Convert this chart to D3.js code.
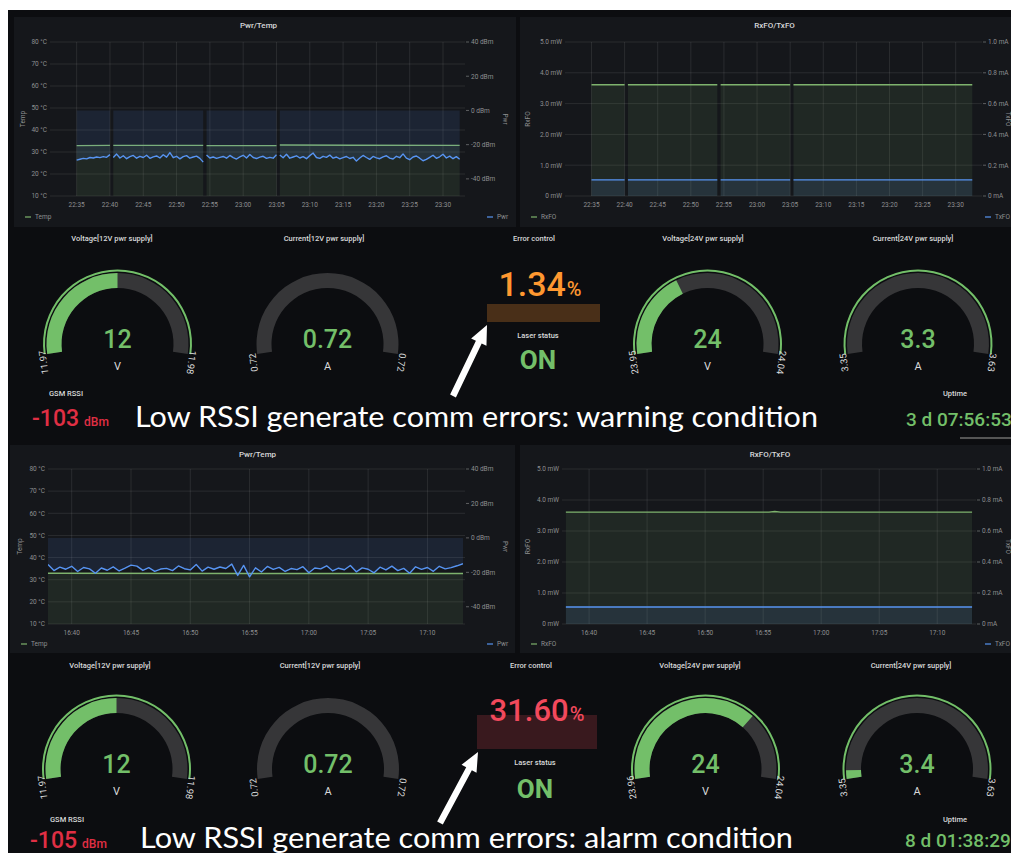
<!DOCTYPE html>
<html lang="en">
<head>
  <meta charset="utf-8" />
  <title>Grafana fiber link dashboards</title>
  <script src="https://cdn.jsdelivr.net/npm/d3@7"></script>
  <style>
    html, body { margin: 0; padding: 0; background: #fff; }
    svg { display: block; font-family: Roboto, "Noto Sans", sans-serif; }
  </style>
</head>
<body>
  <div id="chart"></div>
  <script>
    // ---- data: top dashboard (warning) ----
    const topStart = "22:35";
    const topGaps = [5.25, 19.25, 30.25];           // minutes after start with no samples
    // Pwr [dBm], one sample every 30 s
    const pwrTop = [
      -29.0, -28.5, -28.0, -28.3, -27.5, -27.8, -27.2, -27.6, -27.0, -27.4, -25.8,
      -27.5, -25.5, -27.8, -26.5, -28.2, -27.0, -26.3, -27.9, -26.8, -27.5, -26.2, -28.0, -27.1, -26.6,
      -27.8, -25.9, -27.3, -24.6, -27.6, -26.8, -28.3, -27.0, -26.4, -27.9, -27.2, -26.7, -28.0, -30.2,
      -26.0, -27.8, -27.2, -28.0, -27.4, -26.9, -27.9, -26.3, -27.6, -28.4, -27.1, -26.2, -27.8, -25.8,
      -27.5, -28.1, -27.3, -26.8, -28.0, -27.4, -27.9, -25.9,
      -26.0, -27.6, -25.6, -27.9, -27.2, -26.5, -27.8, -27.0, -28.2, -26.4, -24.9, -27.5, -28.0, -26.8,
      -27.4, -26.1, -27.9, -27.2, -28.3, -27.6, -26.9, -28.1, -27.4, -29.6, -27.8, -26.3, -27.5, -28.6,
      -26.9, -27.7, -28.2, -27.1, -26.5, -27.9, -28.4, -26.8, -27.6, -25.4, -27.9, -28.8, -27.2, -26.6,
      -27.9, -29.4, -28.6, -27.4, -26.2, -28.0, -27.1, -25.6, -27.8, -26.7, -28.2, -27.0, -28.5
    ];
    // [minutes after start, value]
    const tempTop = [[0, 32.9], [5.0, 33.0], [5.5, 33.0], [19.0, 33.0], [19.5, 32.9], [30.0, 32.9], [30.5, 33.2], [42.0, 33.1], [57.5, 33.0]];
    const rxTop = [[0, 3.61], [5.0, 3.61], [5.5, 3.61], [19.0, 3.61], [19.5, 3.61], [30.0, 3.61], [30.5, 3.61], [57.5, 3.61]];
    const txTop = [[0, 0.105], [5.0, 0.105], [5.5, 0.105], [19.0, 0.105], [19.5, 0.105], [30.0, 0.105], [30.5, 0.105], [57.5, 0.105]];

    // ---- data: bottom dashboard (alarm) ----
    const bottomStart = "16:38";
    const bottomGaps = [];
    const pwrBottom = [
      -15.5, -19.0, -17.0, -18.2, -16.5, -19.5, -17.2, -18.0, -20.5, -17.5,
      -18.8, -16.8, -19.2, -17.6, -15.8, -16.4, -18.9, -17.3, -19.4, -18.1,
      -17.7, -19.0, -16.3, -17.9, -18.6, -15.5, -19.3, -17.0, -18.2, -16.9,
      -17.8, -15.2, -21.8, -16.0, -22.6, -17.4, -19.8, -16.6, -18.3, -17.1,
      -19.5, -17.8, -18.4, -16.7, -20.2, -17.5, -18.0, -16.2, -19.1, -17.6,
      -18.5, -16.0, -19.7, -17.4, -18.2, -20.3, -17.0, -18.6, -16.4, -19.0,
      -17.7, -20.5, -16.8, -18.3, -17.2, -19.4, -16.5, -18.0, -17.3, -16.2,
      -15.0
    ];
    const tempBottom = [[0, 32.9], [17.5, 32.8], [35, 32.8]];
    const rxBottom = [[0, 3.61], [17.5, 3.61], [18.0, 3.63], [18.5, 3.61], [35, 3.61]];
    const txBottom = [[0, 0.11], [35, 0.11]];

    // ---- axes ----
    const tempTicks = [10, 20, 30, 40, 50, 60, 70, 80];
    const dbmTicks = [-40, -20, 0, 20, 40];
    const mwTicks = [0, 1, 2, 3, 4, 5];
    const maTicks = [0, 0.2, 0.4, 0.6, 0.8, 1.0];

    // ---- gauges ----
    const gaugeTitles = ["Voltage[12V pwr supply]", "Current[12V pwr supply]", "Voltage[24V pwr supply]", "Current[24V pwr supply]"];
    const gaugeUnits = ["V", "A", "V", "A"];
    const gaugeFormats = [".0f", ".2f", ".0f", ".1f"];
    const topGaugeValues = [11.975, 0.72, 23.983, 3.3];
    const topGaugeMin = [11.97, 0.72, 23.95, 3.35];
    const topGaugeMax = [11.98, 0.72, 24.04, 3.63];
    const bottomGaugeValues = [11.975, 0.72, 24.017, 3.36];
    const bottomGaugeMin = [11.97, 0.72, 23.96, 3.35];
    const bottomGaugeMax = [11.98, 0.72, 24.04, 3.63];

    // ---- stats ----
    const errorRate = [1.34, 31.60];
    const laserStatus = ["ON", "ON"];
    const gsmRssi = [-103, -105];
    const uptime = ["3 d 07:56:53", "8 d 01:38:29"];
    const notes = ["Low RSSI generate comm errors: warning condition", "Low RSSI generate comm errors: alarm condition"];

    // colours
    const bgCol = "#0c0d10", panelCol = "#15171b", gridCol = "rgba(255,255,255,0.09)";
    const textCol = "#d8d9da", tickCol = "#8e8f91";
    const green = "#73bf69", lineGreen = "#7eb26d", lineBlue = "#5794f2";
    const orange = "#ff9830", red = "#f2495c", rssiRed = "#e02f44", trackCol = "#363638";

    // layout of the two screenshots
    const layouts = [
      {
        leftPanel: [14, 17, 502, 210], rightPanel: [520, 17, 500, 210],
        leftPlot: [50, 463], rightPlot: [565, 980], plotY: [196, 42],
        leftDomain: ["22:31", "23:33"], rightDomain: ["22:31", "23:33:40"],
        titleY: 28, legendY: 219, leftAxisTitleX: [25, 530], rightAxisTitleX: [503, 1006],
        rightLegendX: [497, 995],
        gaugeX: [117.5, 327.5, 707.5, 918], gaugeY: 344, gaugeTitleX: [112, 324, 703, 913], rowTitleY: 241,
        errTitleX: 534, errX: 540, errY: 296, errBar: [487, 304, 113, 18], laserY: 338, onX: 538, onY: 369,
        rssiLabel: [66, 396], rssiX: 32, rssiY: 426,
        note: [135, 818, 427], arrow: [[453, 396], [487, 325]],
        uptimeLabel: [955, 396], uptimeX: 906, uptimeY: 426
      },
      {
        leftPanel: [10, 445, 505, 208], rightPanel: [520, 445, 500, 208],
        leftPlot: [48, 463], rightPlot: [562, 974], plotY: [624, 469],
        leftDomain: ["16:38", "17:13"], rightDomain: ["16:37:40", "17:13:10"],
        titleY: 457, legendY: 646, leftAxisTitleX: [22, 530], rightAxisTitleX: [503, 1006],
        rightLegendX: [497, 995],
        gaugeX: [116.5, 328, 705.5, 917], gaugeY: 769, gaugeTitleX: [110, 320, 700, 911], rowTitleY: 668,
        errTitleX: 531, errX: 537, errY: 721, errBar: [477, 715, 120, 34], laserY: 765, onX: 535, onY: 798,
        rssiLabel: [67, 822], rssiX: 30, rssiY: 848,
        note: [140, 793, 848], arrow: [[440, 823], [478, 752]],
        uptimeLabel: [955, 822], uptimeX: 905, uptimeY: 847
      }
    ];

    const sections = [
      { start: topStart, gaps: topGaps, pwr: pwrTop, temp: tempTop, rx: rxTop, tx: txTop,
        gv: topGaugeValues, gmin: topGaugeMin, gmax: topGaugeMax, errColor: orange, errOpacity: 0.25 },
      { start: bottomStart, gaps: bottomGaps, pwr: pwrBottom, temp: tempBottom, rx: rxBottom, tx: txBottom,
        gv: bottomGaugeValues, gmin: bottomGaugeMin, gmax: bottomGaugeMax, errColor: red, errOpacity: 0.2 }
    ];

    const W = 1011, H = 853;
    const svg = d3.select("#chart").append("svg")
      .attr("width", W).attr("height", H)
      .attr("viewBox", [0, 0, W, H]);

    svg.append("rect").attr("width", W).attr("height", H).attr("fill", "#fff");
    svg.append("rect").attr("x", 8).attr("y", 10).attr("width", W - 8).attr("height", H - 10).attr("fill", bgCol);

    // "HH:MM[:SS]" -> Date
    function toDate(s) {
      const [h, m, sec] = s.split(":").map(Number);
      return new Date(2020, 0, 1, h, m, sec || 0);
    }

    // split [minute, value] points where a gap falls between two samples
    function splitSegments(pts, gaps) {
      const segs = [[]];
      pts.forEach((p, i) => {
        if (i > 0 && gaps.some(gp => gp > pts[i - 1][0] && gp < p[0])) segs.push([]);
        segs[segs.length - 1].push(p);
      });
      return segs;
    }

    let clipId = 0;
    function timeChart(L, side, cfg) {
      const idx = side === "left" ? 0 : 1;
      const [px, py, pw, ph] = side === "left" ? L.leftPanel : L.rightPanel;
      const xr = side === "left" ? L.leftPlot : L.rightPlot;
      const dom = side === "left" ? L.leftDomain : L.rightDomain;
      const g = svg.append("g");
      g.append("rect").attr("x", px).attr("y", py).attr("width", pw).attr("height", ph).attr("fill", panelCol);

      const x = d3.scaleTime().domain(dom.map(toDate)).range(xr);
      const yl = d3.scaleLinear().domain(cfg.leftDomain).range(L.plotY);
      const yr = d3.scaleLinear().domain(cfg.rightDomain).range(L.plotY);

      // title
      g.append("text").attr("x", (xr[0] + xr[1]) / 2 + 2).attr("y", L.titleY)
        .attr("text-anchor", "middle").attr("fill", textCol).attr("font-size", 8).attr("font-weight", 500)
        .text(cfg.title);

      // grid
      const xTicks = x.ticks(d3.timeMinute.every(5));
      g.append("g").selectAll("line").data(xTicks).join("line")
        .attr("x1", d => x(d)).attr("x2", d => x(d))
        .attr("y1", L.plotY[1]).attr("y2", L.plotY[0])
        .attr("stroke", gridCol);
      g.append("g").selectAll("line").data(cfg.leftTicks).join("line")
        .attr("x1", xr[0]).attr("x2", xr[1] + 2)
        .attr("y1", d => yl(d)).attr("y2", d => yl(d))
        .attr("stroke", gridCol);

      // axis labels
      g.append("g").selectAll("text").data(xTicks).join("text")
        .attr("x", d => x(d)).attr("y", L.plotY[0] + 11)
        .attr("text-anchor", "middle").attr("fill", tickCol).attr("font-size", 6.5)
        .text(d3.timeFormat("%H:%M"));
      g.append("g").selectAll("text").data(cfg.leftTicks).join("text")
        .attr("x", xr[0] - 3).attr("y", d => yl(d) + 2.3)
        .attr("text-anchor", "end").attr("fill", tickCol).attr("font-size", 6.5)
        .text(cfg.leftFmt);
      const rt = g.append("g").selectAll("g").data(cfg.rightTicks).join("g");
      rt.append("line").attr("x1", xr[1] + 3).attr("x2", xr[1] + 6)
        .attr("y1", d => yr(d)).attr("y2", d => yr(d)).attr("stroke", tickCol).attr("stroke-opacity", 0.6);
      rt.append("text").attr("x", xr[1] + 8).attr("y", d => yr(d) + 2.3)
        .attr("fill", tickCol).attr("font-size", 6.5).text(cfg.rightFmt);

      const midY = (L.plotY[0] + L.plotY[1]) / 2;
      g.append("text").attr("transform", `translate(${L.leftAxisTitleX[idx]},${midY}) rotate(-90)`)
        .attr("text-anchor", "middle").attr("fill", tickCol).attr("font-size", 6.5).text(cfg.leftLabel);
      g.append("text").attr("transform", `translate(${L.rightAxisTitleX[idx]},${midY}) rotate(90)`)
        .attr("text-anchor", "middle").attr("fill", tickCol).attr("font-size", 6.5).text(cfg.rightLabel);

      // series
      const id = "clip" + (clipId++);
      g.append("clipPath").attr("id", id).append("rect")
        .attr("x", xr[0]).attr("y", L.plotY[1]).attr("width", xr[1] - xr[0]).attr("height", L.plotY[0] - L.plotY[1]);
      const plot = g.append("g").attr("clip-path", `url(#${id})`);
      const t0 = toDate(cfg.start).getTime();
      const tx = m => x(new Date(t0 + m * 60000));

      cfg.series.forEach(s => {
        const y = s.axis === "left" ? yl : yr;
        const segs = splitSegments(s.points, cfg.gaps);
        const area = d3.area().x(d => tx(d[0])).y0(y(0)).y1(d => y(d[1]));
        const line = d3.line().x(d => tx(d[0])).y(d => y(d[1]));
        plot.append("g").selectAll("path").data(segs).join("path")
          .attr("d", area).attr("fill", s.color).attr("fill-opacity", 0.11);
        plot.append("g").selectAll("path").data(segs).join("path")
          .attr("d", line).attr("fill", "none").attr("stroke", s.color)
          .attr("stroke-width", s.width || 1.3).attr("stroke-linejoin", "round");
      });

      // legends
      const ly = L.legendY;
      const s0 = cfg.series[0], s1 = cfg.series[1];
      g.append("line").attr("x1", px + 11).attr("x2", px + 17).attr("y1", ly - 2).attr("y2", ly - 2)
        .attr("stroke", s0.color).attr("stroke-width", 1.2);
      g.append("text").attr("x", px + 21).attr("y", ly).attr("fill", tickCol).attr("font-size", 6.5).text(s0.name);
      const rx0 = L.rightLegendX[idx];
      g.append("line").attr("x1", rx0 - 10).attr("x2", rx0 - 4).attr("y1", ly - 2).attr("y2", ly - 2)
        .attr("stroke", s1.color).attr("stroke-width", 1.2);
      g.append("text").attr("x", rx0).attr("y", ly).attr("fill", tickCol).attr("font-size", 6.5).text(s1.name);
    }

    function gauge(cx, cy, R, title, titleX, titleY, unit, value, min, max, fmt) {
      const a0 = -98 * Math.PI / 180, a1 = -a0;
      const rOut = R - 3.5, rIn = rOut - 15;
      const active = max > min;
      const angle = d3.scaleLinear().domain([min, max]).range([a0, a1]).clamp(true);
      const arc = d3.arc();

      svg.append("text").attr("x", titleX).attr("y", titleY).attr("text-anchor", "middle")
        .attr("fill", textCol).attr("font-size", 7.5).attr("font-weight", 500).text(title);

      const g = svg.append("g").attr("transform", `translate(${cx},${cy})`);
      g.append("path").attr("d", arc({ innerRadius: rIn, outerRadius: rOut, startAngle: a0, endAngle: a1 }))
        .attr("fill", trackCol);
      if (active) {
        g.append("path").attr("d", arc({ innerRadius: rIn, outerRadius: rOut, startAngle: a0, endAngle: angle(value) }))
          .attr("fill", green);
        g.append("path").attr("d", arc({ innerRadius: R - 2, outerRadius: R, startAngle: a0, endAngle: a1 }))
          .attr("fill", green);
      }
      g.append("text").attr("y", 4).attr("text-anchor", "middle")
        .attr("fill", green).attr("font-size", 25).attr("font-weight", 500)
        .text(d3.format(fmt)(value));
      g.append("text").attr("y", 26).attr("text-anchor", "middle")
        .attr("fill", textCol).attr("font-size", 11).text(unit);

      // min / max labels just past the arc ends
      [[a0, min], [a1, max]].forEach(([a, v]) => {
        const r = R - 2;
        const deg = a * 180 / Math.PI;
        g.append("text")
          .attr("transform", `translate(${Math.sin(a) * r},${-Math.cos(a) * r}) rotate(${deg})`)
          .attr("dx", a < 0 ? -8 : 8)
          .attr("text-anchor", "middle").attr("fill", textCol).attr("font-size", 9.5)
          .text(d3.format(".2f")(v));
      });
    }

    function arrow(tail, tip) {
      const dx = tip[0] - tail[0], dy = tip[1] - tail[1];
      const len = Math.hypot(dx, dy), ux = dx / len, uy = dy / len, nx = -uy, ny = ux;
      const hw = 3.2, hl = 19, hh = 8.5;
      const bx = tip[0] - ux * hl, by = tip[1] - uy * hl;
      const pts = [
        [tail[0] + nx * hw, tail[1] + ny * hw], [bx + nx * hw, by + ny * hw], [bx + nx * hh, by + ny * hh],
        tip, [bx - nx * hh, by - ny * hh], [bx - nx * hw, by - ny * hw], [tail[0] - nx * hw, tail[1] - ny * hw]
      ];
      svg.append("path").attr("d", d3.line()(pts) + "Z").attr("fill", "#fff");
    }

    sections.forEach((sec, k) => {
      const L = layouts[k];
      const pwrPts = sec.pwr.map((v, i) => [i * 0.5, v]);

      timeChart(L, "left", {
        title: "Pwr/Temp", start: sec.start, gaps: sec.gaps,
        leftDomain: [10, 80], leftTicks: tempTicks, leftFmt: d => d + " °C", leftLabel: "Temp",
        rightDomain: [-50, 40], rightTicks: dbmTicks, rightFmt: d => d + " dBm", rightLabel: "Pwr",
        series: [
          { name: "Temp", points: sec.temp, axis: "left", color: lineGreen, width: 1.4 },
          { name: "Pwr", points: pwrPts, axis: "right", color: lineBlue, width: 1.4 }
        ]
      });
      timeChart(L, "right", {
        title: "RxFO/TxFO", start: sec.start, gaps: sec.gaps,
        leftDomain: [0, 5], leftTicks: mwTicks, leftFmt: d => (d === 0 ? "0" : d.toFixed(1)) + " mW", leftLabel: "RxFO",
        rightDomain: [0, 1], rightTicks: maTicks, rightFmt: d => (d === 0 ? "0" : d.toFixed(1)) + " mA", rightLabel: "TxFO",
        series: [
          { name: "RxFO", points: sec.rx, axis: "left", color: lineGreen, width: 1.4 },
          { name: "TxFO", points: sec.tx, axis: "right", color: lineBlue, width: 1.4 }
        ]
      });

      // gauges
      gaugeTitles.forEach((t, i) => {
        gauge(L.gaugeX[i], L.gaugeY, 74.5, t, L.gaugeTitleX[i], L.rowTitleY, gaugeUnits[i],
          sec.gv[i], sec.gmin[i], sec.gmax[i], gaugeFormats[i]);
      });

      // error control
      svg.append("text").attr("x", L.errTitleX).attr("y", L.rowTitleY).attr("text-anchor", "middle")
        .attr("fill", textCol).attr("font-size", 7.5).attr("font-weight", 500).text("Error control");
      svg.append("rect").attr("x", L.errBar[0]).attr("y", L.errBar[1]).attr("width", L.errBar[2]).attr("height", L.errBar[3])
        .attr("fill", sec.errColor).attr("fill-opacity", sec.errOpacity);
      const et = svg.append("text").attr("x", L.errX).attr("y", L.errY).attr("text-anchor", "middle")
        .attr("fill", sec.errColor).attr("font-weight", 500);
      et.append("tspan").attr("font-size", k === 0 ? 34 : 31).text(errorRate[k].toFixed(2));
      et.append("tspan").attr("font-size", 20).attr("dx", 1).text("%");

      svg.append("text").attr("x", L.onX).attr("y", L.laserY).attr("text-anchor", "middle")
        .attr("fill", textCol).attr("font-size", 7.5).attr("font-weight", 500).text("Laser status");
      svg.append("text").attr("x", L.onX).attr("y", L.onY).attr("text-anchor", "middle")
        .attr("fill", green).attr("font-size", 26).attr("font-weight", 700).text(laserStatus[k]);

      // GSM RSSI
      svg.append("text").attr("x", L.rssiLabel[0]).attr("y", L.rssiLabel[1]).attr("text-anchor", "middle")
        .attr("fill", textCol).attr("font-size", 7.5).attr("font-weight", 500).text("GSM RSSI");
      const rs = svg.append("text").attr("x", L.rssiX).attr("y", L.rssiY).attr("fill", rssiRed).attr("font-weight", 500);
      rs.append("tspan").attr("font-size", 23).text(gsmRssi[k]);
      rs.append("tspan").attr("font-size", 12).attr("dx", 5).text("dBm");

      // uptime
      svg.append("text").attr("x", L.uptimeLabel[0]).attr("y", L.uptimeLabel[1]).attr("text-anchor", "middle")
        .attr("fill", textCol).attr("font-size", 7.5).attr("font-weight", 500).text("Uptime");
      svg.append("text").attr("x", L.uptimeX).attr("y", L.uptimeY).attr("fill", green)
        .attr("font-size", 19).attr("font-weight", 500).text(uptime[k]);

      // annotation
      arrow(L.arrow[0], L.arrow[1]);
      svg.append("text").attr("x", L.note[0]).attr("y", L.note[2])
        .attr("textLength", L.note[1] - L.note[0]).attr("lengthAdjust", "spacingAndGlyphs")
        .attr("fill", "#fff").attr("font-family", "Lato, 'Open Sans', sans-serif").attr("font-size", 28)
        .text(notes[k]);
    });

    // small scrollbar under the first uptime value
    svg.append("line").attr("x1", 960).attr("x2", W).attr("y1", 438).attr("y2", 438)
      .attr("stroke", "#555").attr("stroke-width", 2);
  </script>
</body>
</html>
